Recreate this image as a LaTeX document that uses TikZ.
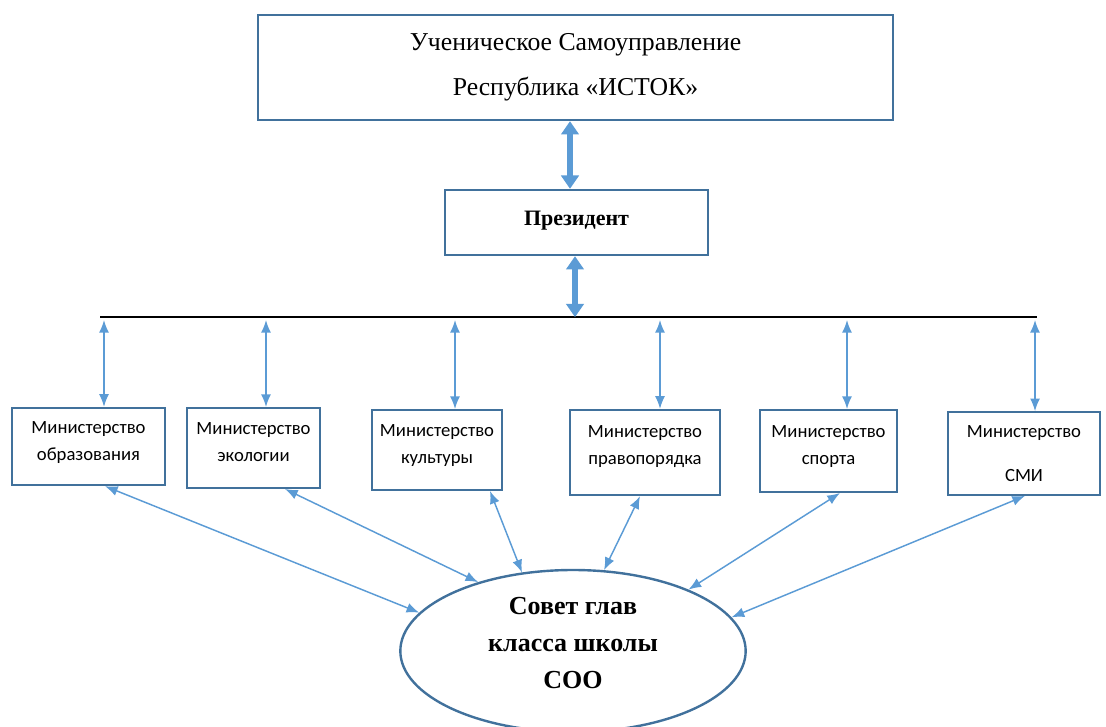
\documentclass[tikz,border=0pt]{standalone}
\usepackage{fontspec}
\setmainfont{Liberation Serif}
\newfontfamily\calfont{Carlito}
\usepackage{xcolor}
\usetikzlibrary{positioning}
\usetikzlibrary{arrows.meta}
\usetikzlibrary{shapes.geometric}
\usetikzlibrary{calc}
\definecolor{boxblue}{HTML}{41719C}
\definecolor{arrblue}{HTML}{5B9BD5}
\tikzset{edge/.style = {<->,> = {Latex[length=9.5pt,width=7.5pt]}, arrblue, line width=1.1pt}}
\tikzset{bigedge/.style = {<->,> = {Triangle[length=10pt,width=13pt]}, arrblue, line width=4pt}}

\begin{document}
\begin{tikzpicture}[x=0.75pt,y=-0.75pt,
  box node/.style={rectangle,draw=boxblue,line width=1.5pt,inner sep=0pt,align=center},
  min node/.style={box node,font=\calfont\fontsize{14}{20}\selectfont}]
            \useasboundingbox (0,0) rectangle (1106,727);

            \node[box node,minimum width=476pt,minimum height=79pt,font=\fontsize{19.3}{34}\selectfont] (top) at (575.5,67.5) {Ученическое Самоуправление\\Республика «ИСТОК»};
            \node[box node,minimum width=197pt,minimum height=49pt,font=\bfseries\fontsize{16.5}{19}\selectfont] (pres) at (576.5,222.5) {Президент\\[-12pt]};

            \node[min node,minimum width=115pt,minimum height=58pt] (m1) at (88.5,446.5) {Министерство\\образования\\[-12pt]};
            \node[min node,minimum width=100pt,minimum height=60pt] (m2) at (253.5,448) {Министерство\\экологии\\[-11pt]};
            \node[min node,minimum width=97.5pt,minimum height=60pt] (m3) at (437,450) {Министерство\\культуры\\[-11pt]};
            \node[min node,minimum width=112.5pt,minimum height=64pt] (m4) at (645,452.5) {Министерство\\правопорядка\\[-8.5pt]};
            \node[min node,minimum width=103pt,minimum height=61.5pt] (m5) at (828.5,451) {Министерство\\спорта\\[-11pt]};
            \node[min node,minimum width=114pt,minimum height=62pt] (m6) at (1024,453.5) {Министерство\\[13pt]СМИ};

            \node[ellipse,draw=boxblue,line width=1.8pt,inner sep=0pt,minimum width=259pt,minimum height=121.5pt,align=center,font=\bfseries\fontsize{19.5}{28}\selectfont] (sov) at (573,651) {Совет глав\\класса школы\\СОО\\[-16pt]};

            % line under the president
            \coordinate (l) at (100,317);
            \coordinate (r) at (1037,317);
            \draw[line width=1.5pt] (l) -- (r);

            \path[bigedge] (top.south -| 570,0) edge ($(pres.north)+(-6.5,0)$);
            \path[bigedge] ($(pres.south)+(-1.5,0)$) edge ($(pres.south)+(-1.5,61)$);

            \foreach \n/\x in {m1/104,m2/266,m3/455,m4/660,m5/847,m6/1035}
              \path[edge] (\x,320) edge (\x,320 |- \n.north);

            \path[edge] ($(m1.south)+(16.5,0)$) edge (sov.166);
            \path[edge] ($(m2.south)+(31.5,0)$) edge (sov.144);
            \path[edge] ($(m3.south)+(53,0)$) edge (sov.123);
            \path[edge] ($(m4.south)+(-5,0)$) edge (sov.69);
            \path[edge] ($(m5.south)+(11.5,0)$) edge (sov.28);
            \path[edge] ($(m6.south)+(1,0)$) edge (sov.12);

        \end{tikzpicture}
\end{document}
